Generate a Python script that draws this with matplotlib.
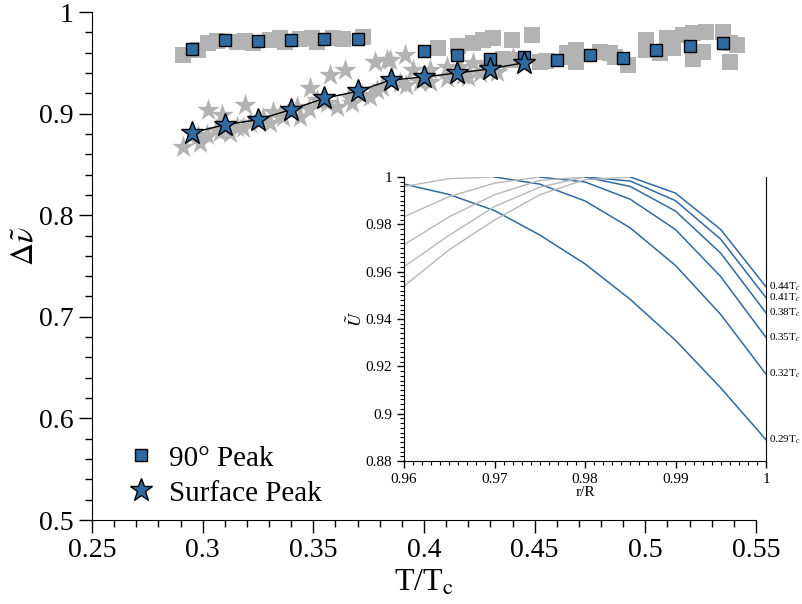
import matplotlib
matplotlib.use("Agg")
import matplotlib.pyplot as plt
from matplotlib.ticker import MultipleLocator

plt.rcParams['font.family'] = ['Liberation Serif', 'DejaVu Serif']
plt.rcParams['mathtext.fontset'] = 'stix'

# ---- main data ----
peak90_x = [0.295, 0.31, 0.325, 0.34, 0.355, 0.37, 0.40, 0.415, 0.43, 0.445, 0.46, 0.475, 0.49, 0.505, 0.52, 0.535]
peak90_y = [0.964, 0.972, 0.971, 0.972, 0.973, 0.973, 0.962, 0.958, 0.954, 0.956, 0.953, 0.958, 0.955, 0.963, 0.967, 0.969]

surf_x = [0.295, 0.31, 0.325, 0.34, 0.355, 0.37, 0.385, 0.40, 0.415, 0.43, 0.445]
surf_y = [0.881, 0.889, 0.894, 0.904, 0.915, 0.922, 0.933, 0.936, 0.940, 0.944, 0.950]

gray_sq_x = [0.2912, 0.298, 0.3025, 0.3063, 0.3154, 0.3191, 0.3229, 0.3304, 0.3349, 0.3372, 0.344, 0.3492,
             0.3515, 0.359, 0.3635, 0.3725, 0.4065, 0.4155, 0.4222, 0.4267, 0.4313, 0.4396, 0.4486, 0.4358,
             0.4403, 0.4523, 0.4553, 0.4644, 0.4667, 0.4689, 0.4689, 0.4795, 0.484, 0.4862, 0.4923, 0.5005,
             0.5005, 0.5065, 0.5096, 0.5126, 0.5171, 0.5216, 0.5216, 0.5261, 0.5276, 0.5352, 0.5382, 0.5412, 0.5382]
gray_sq_y = [0.9577, 0.9626, 0.9692, 0.9718, 0.9708, 0.9718, 0.9692, 0.9724, 0.9741, 0.9708, 0.9731, 0.9741,
             0.9708, 0.9741, 0.9731, 0.9751, 0.9643, 0.9665, 0.9698, 0.9724, 0.9741, 0.9724, 0.9774, 0.9534,
             0.9528, 0.9511, 0.9521, 0.9593, 0.9554, 0.9626, 0.9511, 0.9609, 0.9593, 0.9560, 0.9478, 0.9626,
             0.9724, 0.9593, 0.9741, 0.9643, 0.9774, 0.9790, 0.9534, 0.9609, 0.9806, 0.9806, 0.9692, 0.9675, 0.9511]

gray_st_x = [0.2912, 0.2988, 0.3025, 0.3018, 0.3086, 0.3078, 0.3123, 0.3191, 0.3154, 0.3214, 0.3274, 0.3319,
             0.3304, 0.3364, 0.3425, 0.3485, 0.3515, 0.344, 0.3575, 0.3643, 0.3605, 0.3673, 0.3756, 0.3778,
             0.3831, 0.3786, 0.3846, 0.3914, 0.3951, 0.3891, 0.4027, 0.4102, 0.4162, 0.4222, 0.4283, 0.4343,
             0.4403, 0.4027, 0.4177, 0.4253, 0.4102, 0.298, 0.306, 0.318, 0.326, 0.335, 0.348, 0.356, 0.366,
             0.372, 0.381, 0.392, 0.398, 0.420, 0.433]
gray_st_y = [0.8674, 0.8708, 0.9035, 0.8789, 0.8986, 0.8822, 0.8806, 0.9085, 0.8871, 0.8904, 0.8954, 0.9019,
             0.8904, 0.8970, 0.9068, 0.9249, 0.9134, 0.8970, 0.9380, 0.9429, 0.9068, 0.9101, 0.9166, 0.9511,
             0.9528, 0.9232, 0.9528, 0.9577, 0.9429, 0.9298, 0.9429, 0.9462, 0.9462, 0.9495, 0.9478, 0.9511,
             0.9544, 0.9314, 0.9380, 0.9397, 0.9347, 0.878, 0.884, 0.886, 0.893, 0.899, 0.905, 0.910, 0.916,
             0.918, 0.926, 0.928, 0.931, 0.936, 0.941]

# ---- inset data ----
r_over_R = [0.96, 0.965, 0.97, 0.975, 0.98, 0.985, 0.99, 0.995, 1.0]
inset_labels = ['0.29T$_c$', '0.32T$_c$', '0.35T$_c$', '0.38T$_c$', '0.41T$_c$', '0.44T$_c$']
U_029 = [0.997, 0.9926, 0.9858, 0.9755, 0.9633, 0.9483, 0.931, 0.9109, 0.889]
U_032 = [0.996, 0.9993, 1.0, 0.997, 0.9899, 0.9785, 0.9626, 0.9419, 0.9167]
U_035 = [0.9832, 0.9917, 0.9974, 1.0, 0.9979, 0.9906, 0.9778, 0.9579, 0.9322]
U_038 = [0.9714, 0.9832, 0.9925, 0.9986, 1.0, 0.996, 0.9856, 0.9678, 0.9426]
U_041 = [0.9621, 0.9754, 0.9875, 0.9957, 1.0, 0.9983, 0.990, 0.9737, 0.949]
U_044 = [0.9539, 0.9693, 0.9818, 0.9925, 0.9989, 1.0, 0.9932, 0.9778, 0.9536]
inset_curves = [U_029, U_032, U_035, U_038, U_041, U_044]

BLUE = '#2f6aa1'
GRAY = '#b3b3b3'

fig = plt.figure(figsize=(8.02, 6.04), dpi=100)
ax = fig.add_axes([92/802, 1-520/604, (756-92)/802, (520-12)/604])

ax.scatter(gray_sq_x, gray_sq_y, marker='s', s=15**2 * 0.55, color=GRAY, linewidths=0, zorder=1)
ax.scatter(gray_st_x, gray_st_y, marker='*', s=17**2, color=GRAY, linewidths=0, zorder=1)
ax.plot(surf_x, surf_y, color='black', lw=1, zorder=2)
ax.plot(peak90_x, peak90_y, 's', ms=8.5, mfc=BLUE, mec='black', mew=1, ls='none', zorder=3, label='90° Peak')
ax.plot(surf_x, surf_y, '*', ms=17, mfc=BLUE, mec='black', mew=1, ls='none', zorder=3, label='Surface Peak')

ax.set_xlim(0.25, 0.55)
ax.set_ylim(0.5, 1.0)
ax.spines['top'].set_visible(False)
ax.spines['right'].set_visible(False)
ax.xaxis.set_minor_locator(MultipleLocator(0.01))
ax.yaxis.set_minor_locator(MultipleLocator(0.02))
ax.tick_params(which='major', direction='out', length=9.5, width=1, labelsize=20)
ax.tick_params(which='minor', direction='out', length=5, width=1)
ax.set_xticks([0.25, 0.3, 0.35, 0.4, 0.45, 0.5, 0.55])
ax.set_xticklabels(['0.25', '0.3', '0.35', '0.4', '0.45', '0.5', '0.55'])
ax.set_yticks([0.5, 0.6, 0.7, 0.8, 0.9, 1.0])
ax.set_yticklabels(['0.5', '0.6', '0.7', '0.8', '0.9', '1'])
ax.set_xlabel('T/T$_{\\mathrm{c}}$', fontsize=23, labelpad=0)
ax.set_ylabel('$\\Delta\\tilde{\\nu}$', fontsize=23)
ax.yaxis.set_label_coords(-0.078, 0.54)
ax.xaxis.set_label_coords(0.5, -0.095)

leg = ax.legend(loc='lower left', bbox_to_anchor=(0.01, -0.014), frameon=False, fontsize=21,
                handletextpad=0.2, borderaxespad=0.3, labelspacing=0.3, handlelength=1.5)

# ---- inset ----
ins = fig.add_axes([404/802, 1-461/604, (766-404)/802, (461-177)/604])
for lab, U in zip(inset_labels, inset_curves):
    imax = max(range(len(U)), key=lambda i: U[i])
    if imax > 0:
        ins.plot(r_over_R[:imax+1], U[:imax+1], color='#b8b8b8', lw=1)
    ins.plot(r_over_R[imax:], U[imax:], color=BLUE, lw=1.1)
    ins.text(1.0003, U[-1], lab, fontsize=8, va='center', ha='left')

ins.set_xlim(0.96, 1.0)
ins.set_ylim(0.88, 1.0)
ins.spines['top'].set_visible(False)
ins.xaxis.set_minor_locator(MultipleLocator(0.001))
ins.yaxis.set_minor_locator(MultipleLocator(0.002))
ins.tick_params(which='major', direction='out', length=5, width=1, labelsize=11, right=False)
ins.tick_params(which='minor', direction='out', length=3, width=0.8)
ins.set_xticks([0.96, 0.97, 0.98, 0.99, 1.0])
ins.set_xticklabels(['0.96', '0.97', '0.98', '0.99', '1'])
ins.set_yticks([0.88, 0.9, 0.92, 0.94, 0.96, 0.98, 1.0])
ins.set_yticklabels(['0.88', '0.9', '0.92', '0.94', '0.96', '0.98', '1'])
ins.set_xlabel('r/R', fontsize=11, labelpad=0)
ins.set_ylabel('$\\tilde{U}$', fontsize=13)
ins.yaxis.set_label_coords(-0.105, 0.5)

fig.savefig('out.png', dpi=100)
